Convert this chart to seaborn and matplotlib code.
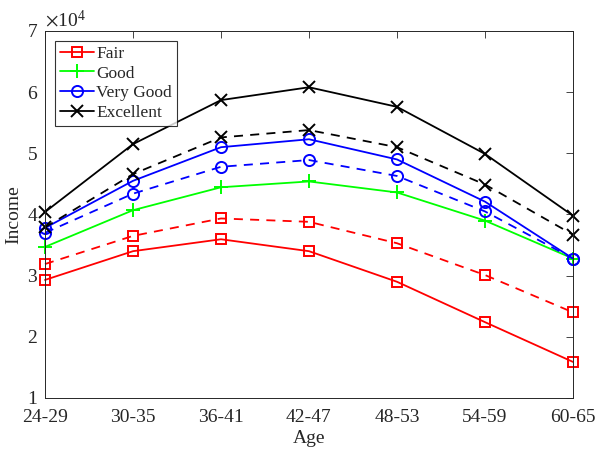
import pandas as pd
import seaborn as sns
import matplotlib.pyplot as plt

ages = ["24-29", "30-35", "36-41", "42-47", "48-53", "54-59", "60-65"]

# solid lines (income)
fair = [29300, 34000, 35950, 34000, 29000, 22400, 15900]
good = [34700, 40700, 44450, 45400, 43600, 39000, 32800]
very_good = [37800, 45500, 51000, 52300, 49000, 42100, 32800]
excellent = [40400, 51500, 58700, 60800, 57600, 49900, 39800]

# dashed lines
fair_d = [31900, 36500, 39350, 38800, 35300, 30100, 24000]
very_good_d = [37000, 43400, 47800, 48900, 46300, 40500, 32800]
excellent_d = [37900, 46600, 52600, 53800, 51000, 44900, 36700]

sns.set_style("white")
plt.rcParams["font.family"] = ["Liberation Serif", "DejaVu Serif"]
plt.rcParams["mathtext.fontset"] = "stix"

fig = plt.figure(figsize=(5.95, 4.49), dpi=100)
ax = fig.add_axes([0.0756, 0.1136, 0.8874, 0.8174])

styles = [
    ("Fair", fair, fair_d, "#ff0000", "s", 7),
    ("Good", good, None, "#00ff00", "+", 10),
    ("Very Good", very_good, very_good_d, "#0000ff", "o", 8),
    ("Excellent", excellent, excellent_d, "#000000", "x", 9),
]

for name, solid, dashed, col, mk, ms in styles:
    kw = dict(color=col, marker=mk, markersize=ms, markeredgewidth=1.4,
              markeredgecolor=col, linewidth=1.3, clip_on=False, ax=ax)
    if mk in ("s", "o"):
        kw["markerfacecolor"] = "none"
    df = pd.DataFrame({"Age": ages, "Income": solid})
    sns.lineplot(data=df, x="Age", y="Income", label=name, **kw)
    if dashed is not None:
        dd = pd.DataFrame({"Age": ages, "Income": dashed})
        sns.lineplot(data=dd, x="Age", y="Income", linestyle=(0, (5, 4)),
                     legend=False, **kw)

ax.set_xlim(0, 6)
ax.set_ylim(10000, 70000)
ax.set_yticks([10000, 20000, 30000, 40000, 50000, 60000, 70000])
ax.ticklabel_format(axis="y", style="sci", scilimits=(4, 4), useMathText=True)
ax.yaxis.get_offset_text().set_fontsize(14)
ax.tick_params(direction="in", top=True, right=True, labelsize=14,
               length=5, width=0.6, colors="#262626")
ax.tick_params(axis="x", pad=8)
ax.tick_params(axis="y", pad=5)
for s in ax.spines.values():
    s.set_linewidth(0.7)
    s.set_color("#262626")
ax.set_xlabel("Age", fontsize=14, labelpad=3)
ax.set_ylabel("Income", fontsize=14, labelpad=3)

handles, labels = ax.get_legend_handles_labels()
leg = ax.legend(handles[:4], labels[:4], loc="upper left", fontsize=12.5,
                frameon=True, fancybox=False, edgecolor="black",
                handlelength=2.0, borderpad=0.3, labelspacing=0.2,
                handletextpad=0.1, borderaxespad=0.55)
leg.get_frame().set_linewidth(0.8)

fig.savefig("out.png", dpi=100)
